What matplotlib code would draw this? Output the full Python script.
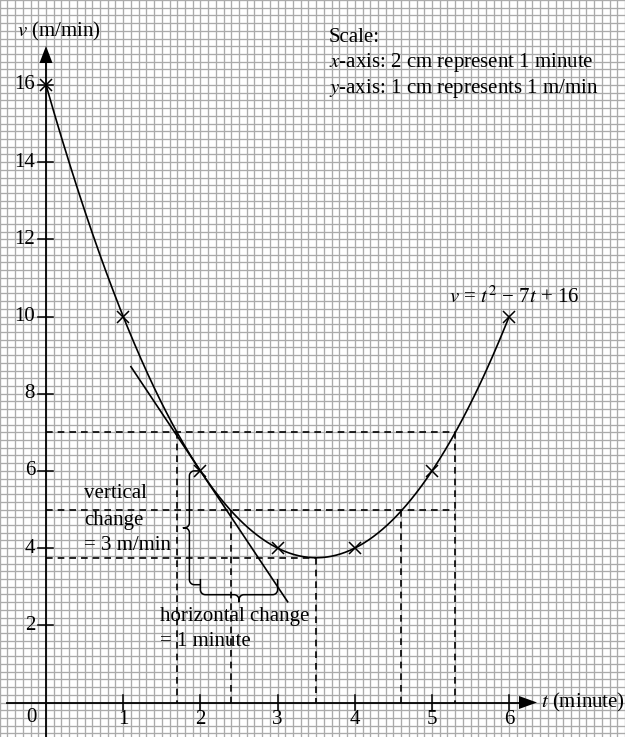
import numpy as np
import matplotlib
matplotlib.use("Agg")
import matplotlib.pyplot as plt

plt.rcParams['font.family'] = ['Liberation Serif', 'DejaVu Serif']
plt.rcParams['mathtext.fontset'] = 'stix'

# ---------------- data ----------------
t_points = [0, 1, 2, 3, 4, 5, 6]
v_points = [16, 10, 6, 4, 4, 6, 10]
coeffs = [1, -7, 16]              # v = t^2 - 7t + 16 (from label)
tangent_t = [1.1, 3.13]
tangent_v = [8.7, 2.61]
tangent_point = (2, 6)
vertical_change = 3
horizontal_change = 1
dash_levels = [7, 5, 3.75]
dash_roots = [[1.7, 5.3], [2.4, 4.6], [3.5]]
dash_right = [5.3, 5.3, 3.5]
x_ticks = [1, 2, 3, 4, 5, 6]
y_ticks = [2, 4, 6, 8, 10, 12, 14, 16]

# ---------------- layout (pixel calibration) ----------------
W, H = 625, 737
X0, SX = 46.0, 77.2      # px of t=0, px per minute
Y0, SY = 702.5, 38.6     # px of v=0, px per m/min
def pt(px):  return (np.asarray(px) - X0) / SX
def pv(py):  return (Y0 - np.asarray(py)) / SY
def xp(t):   return X0 + np.asarray(t) * SX
def yp(v):   return Y0 - np.asarray(v) * SY
dx = lambda p: p / SX
dy = lambda p: p / SY

fig = plt.figure(figsize=(W / 100, H / 100), dpi=100)
ax = fig.add_axes([0, 0, 1, 1])
ax.set_xlim(pt(0), pt(W))
ax.set_ylim(pv(H), pv(0))
ax.axis('off')

# graph paper grid
gcol = '#ababab'
for k in np.arange(np.floor(pt(0) / 0.1), np.ceil(pt(W) / 0.1) + 1):
    ax.axvline(k * 0.1, color=gcol, lw=0.95, zorder=0)
for k in np.arange(np.floor(pv(H) / 0.2), np.ceil(pv(0) / 0.2) + 1):
    ax.axhline(k * 0.2, color=gcol, lw=0.95, zorder=0)

# axes
lw_ax = 1.3
ax.plot([pt(7), pt(522)], [0, 0], color='k', lw=lw_ax, zorder=3)
ax.fill([pt(519), pt(537), pt(519)], [dy(6.5), 0, -dy(6.5)], color='k', zorder=3, lw=0)
ax.plot([0, 0], [pv(H), pv(60)], color='k', lw=lw_ax, zorder=3)
ax.fill([-dx(6.5), 0, dx(6.5)], [pv(63), pv(46), pv(63)], color='k', zorder=3, lw=0)

fs = 15
for t in x_ticks:
    ax.plot([t, t], [-dy(7.5), dy(7.5)], color='k', lw=1.1, zorder=3)
    ax.text(t, pv(720), str(t), ha='center', va='center', fontsize=fs)
for v in y_ticks:
    ax.plot([-dx(8), dx(7)], [v, v], color='k', lw=1.1, zorder=3)
    ax.text(pt(35), v, str(v), ha='right', va='center', fontsize=fs)
ax.text(pt(31.5), pv(717), '0', ha='center', va='center', fontsize=fs)

ax.text(pt(17), pv(31.5), r'$v$ (m/min)', ha='left', va='center', fontsize=fs)
ax.text(pt(541), 0, r'$t$ (minute)', ha='left', va='center', fontsize=fs)

# curve
tt = np.linspace(t_points[0], t_points[-1], 400)
ax.plot(tt, np.polyval(coeffs, tt), color='k', lw=1.2, zorder=4)
ax.plot(t_points, v_points, ls='none', marker='x', ms=9, mew=1.1, color='k', zorder=5)

# tangent
ax.plot(tangent_t, tangent_v, color='k', lw=1.2, zorder=4)

# dashed guides
dkw = dict(color='k', lw=1.2, ls=(0, (4, 3)), zorder=2)
for lev, roots, right in zip(dash_levels, dash_roots, dash_right):
    ax.plot([0, right], [lev, lev], **dkw)
    for r in roots:
        ax.plot([r, r], [lev, 0], **dkw)

# braces (built in pixel space)
def brace_local(L, de, dt, r=5.0, n=16):
    a = np.linspace(0, np.pi / 2, n)
    m = L / 2
    pts = [(0.0, -de)]
    # hook arc centred (r, -r): from (0,-r) to (r,0)
    pts += [(r - r * np.cos(x), -r + r * np.sin(x)) for x in a]
    # arc centred (m-r, r): from (m-r,0) to (m, r)
    pts += [(m - r + r * np.sin(x), r - r * np.cos(x)) for x in a]
    pts += [(m, dt)]
    mirror = [(L - u, w) for (u, w) in reversed(pts)]
    return np.array(pts + mirror)

def draw_brace(p0px, p1px, tip_dir, de, dt, r=5.0):
    # p0px, p1px: spine end points in pixel space
    p0 = np.array(p0px, float); p1 = np.array(p1px, float)
    L = np.hypot(*(p1 - p0))
    e = (p1 - p0) / L
    nvec = np.array(tip_dir, dtype=float)
    loc = brace_local(L, de, dt, r)
    P = p0 + np.outer(loc[:, 0], e) + np.outer(loc[:, 1], nvec)
    ax.plot(pt(P[:, 0]), pv(P[:, 1]), color='k', lw=1.1, zorder=4)

tp_t, tp_v = tangent_point
# vertical change brace (tip pointing left), ends touch t = 2
de_v = 10
xs = xp(tp_t) - 1 - de_v
draw_brace((xs, yp(tp_v)), (xs, yp(tp_v - vertical_change) - 2), (-1, 0), de=de_v, dt=6)
# horizontal change brace (tip pointing down)
de_h = 15
ys = yp(tp_v - vertical_change) + 8
draw_brace((xp(tp_t), ys), (xp(tp_t + horizontal_change), ys), (0, 1), de=de_h, dt=7)

# annotations
ax.text(pt(84), pv(494), 'vertical', ha='left', va='center', fontsize=fs)
ax.text(pt(84), pv(520), 'change', ha='left', va='center', fontsize=fs)
ax.text(pt(84), pv(546), '= 3 m/min', ha='left', va='center', fontsize=fs)
ax.text(pt(160), pv(616), 'horizontal change', ha='left', va='center', fontsize=fs)
ax.text(pt(160), pv(642), '= 1 minute', ha='left', va='center', fontsize=fs)

ax.text(pt(449), pv(297), r'$v$ = $t^2$ − 7$t$ + 16', ha='left', va='center', fontsize=fs)

ax.text(pt(329), pv(37), 'Scale:', ha='left', va='center', fontsize=fs)
ax.text(pt(329), pv(63), r'$x$-axis: 2 cm represent 1 minute', ha='left', va='center', fontsize=fs)
ax.text(pt(329), pv(89), r'$y$-axis: 1 cm represents 1 m/min', ha='left', va='center', fontsize=fs)

fig.savefig('out.png', dpi=100, facecolor='white')
